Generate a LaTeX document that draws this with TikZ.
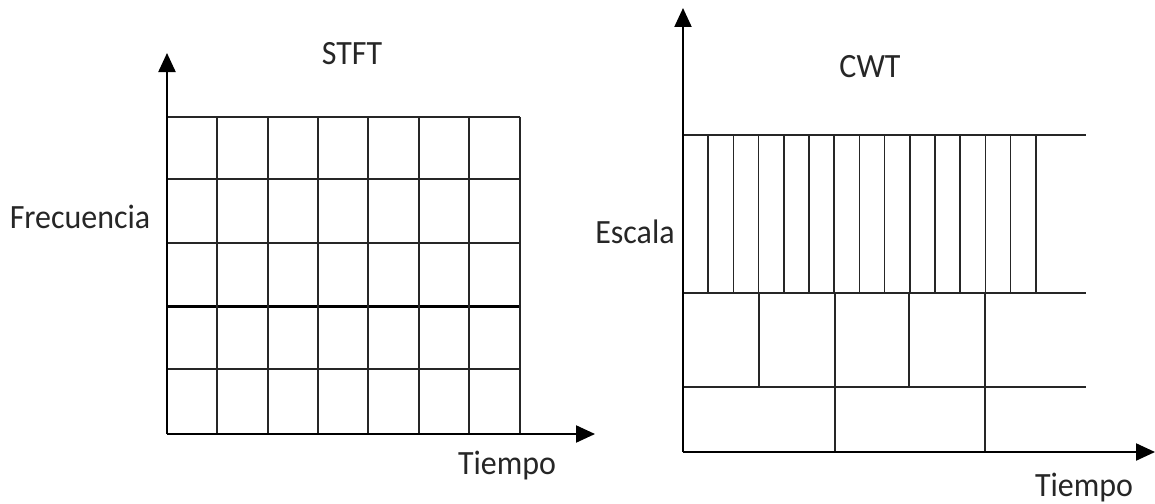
\documentclass[tikz,border=0pt]{standalone}
\usepackage{fontspec}
\setmainfont{Carlito}[FakeStretch=0.94]
\usetikzlibrary{arrows.meta}
\begin{document}
\begin{tikzpicture}[x=1pt,y=-1pt,
  gridline/.style={line width=1.6pt,black!85},
  thickline/.style={line width=3pt,black},
  axisline/.style={line width=2.2pt,black,-{Triangle[length=19pt,width=17pt]}},
  lbl/.style={font=\fontsize{34}{40}\selectfont,text=black!85,inner sep=0pt,anchor=base}]
\useasboundingbox (0,0) rectangle (1155,503);
% ---------- STFT ----------
\coordinate (so) at (167,434);
\coordinate (sy) at (167,53);
\coordinate (sx) at (595,434);
\foreach \y in {117,179,243,369}
  \draw[gridline] (167,\y) -- (520,\y);
\draw[thickline] (167,306) -- (520,306);
\foreach \x in {217,268,318,368,419,469,520}
  \draw[gridline] (\x,117) -- (\x,434);
\draw[axisline] (so) -- (sy);
\draw[axisline] (so) -- (sx);
\node[lbl] (stft) at (352,64) {STFT};
\node[lbl] (frec) at (80,228) {Frecuencia};
\node[lbl] (tiempo1) at (507,474) {Tiempo};
% ---------- CWT ----------
\coordinate (co) at (683,452);
\coordinate (cy) at (683,8);
\coordinate (cx) at (1155,452);
\foreach \y in {135,293,387}
  \draw[gridline] (683,\y) -- (1086,\y);
\foreach \k in {1,...,14}
  \draw[gridline] ({683+25.2*\k},135) -- ({683+25.2*\k},293);
\foreach \x in {759,835,909,985}
  \draw[gridline] (\x,293) -- (\x,387);
\foreach \x in {835,985}
  \draw[gridline] (\x,387) -- (\x,452);
\draw[axisline] (co) -- (cy);
\draw[axisline] (co) -- (cx);
\node[lbl] (cwt) at (870,77) {CWT};
\node[lbl] (escala) at (635,243) {Escala};
\node[lbl] (tiempo2) at (1084,496) {Tiempo};
\end{tikzpicture}
\end{document}
